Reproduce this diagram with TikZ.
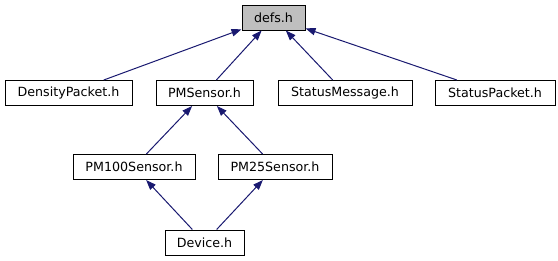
\documentclass[tikz,border=0pt]{standalone}
\usepackage{fontspec}
\setmainfont{DejaVu Sans}
\usetikzlibrary{arrows.meta}
\definecolor{edgeblue}{HTML}{191970}
\definecolor{rootgray}{HTML}{BFBFBF}
\tikzset{
  filebox/.style={draw=black, line width=0.75pt, fill=white, inner sep=0pt,
    minimum height=25\pxu, font=\fontsize{9.5pt}{11pt}\selectfont},
  rootbox/.style={filebox, fill=rootgray},
  incl/.style={draw=edgeblue, line width=0.75pt,
    -{Triangle[length=7.5pt,width=5.5pt,fill=edgeblue]}},
}
\newdimen\pxu \pxu=0.75pt
\begin{document}
\begin{tikzpicture}[x=0.75pt,y=-0.75pt]
  \useasboundingbox (0,0) rectangle (558,261);
  % header files
  \node[rootbox, minimum width=63\pxu]  (defs) at (273.5,17.5) {defs.h};
  \node[filebox, minimum width=127\pxu] (dp)   at (68.5,93)    {DensityPacket.h};
  \node[filebox, minimum width=97\pxu]  (pms)  at (204.5,93)   {PMSensor.h};
  \node[filebox, minimum width=134\pxu] (sm)   at (345,93)     {StatusMessage.h};
  \node[filebox, minimum width=120\pxu] (sp)   at (495,93)     {StatusPacket.h};
  \node[filebox, minimum width=122\pxu] (pm100) at (134,167)   {PM100Sensor.h};
  \node[filebox, minimum width=114\pxu] (pm25) at (275,167)    {PM25Sensor.h};
  \node[filebox, minimum width=79\pxu]  (dev)  at (204.5,242.5) {Device.h};
  % include relations
  \draw[incl] (dp) -- (defs);
  \draw[incl] (pms) -- (defs);
  \draw[incl] (sm) -- (defs);
  \draw[incl] (sp) -- (defs);
  \draw[incl] (pm100) -- (pms);
  \draw[incl] (pm25) -- (pms);
  \draw[incl] (dev) -- (pm100);
  \draw[incl] (dev) -- (pm25);
\end{tikzpicture}
\end{document}
